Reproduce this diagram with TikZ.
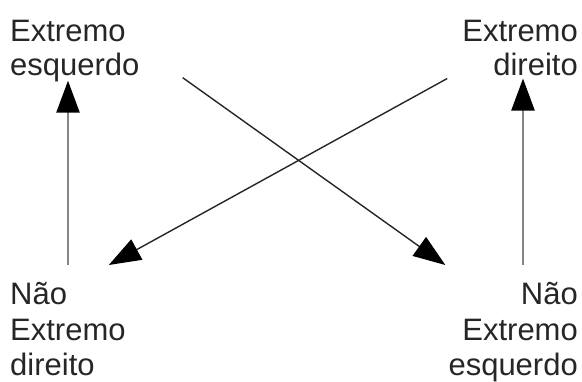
\documentclass[tikz,border=0pt]{standalone}
\usepackage{fontspec}
\setmainfont{Liberation Sans}
\usetikzlibrary{arrows.meta}
\definecolor{txt}{HTML}{262626}
\definecolor{vline}{HTML}{858585}
\begin{document}
\begin{tikzpicture}[x=1pt,y=1pt,
  lbl/.style={inner sep=0pt, text=txt, font={\fontsize{31}{34}\selectfont}},
  lblb/.style={inner sep=0pt, text=txt, font={\fontsize{31}{35.7}\selectfont}},
  tip/.style={-{Triangle[length=32pt,width=23pt,color=black]}},
  vert/.style={tip, draw=vline, line width=2.4pt},
  cross/.style={tip, draw=black!85, line width=1.4pt}]
\useasboundingbox (0,0) rectangle (582,-381);
\node[lbl, align=left, anchor=north west] (tl) at (10,-19.5) {Extremo\\esquerdo};
\node[lbl, align=right, anchor=north east] (tr) at (578,-19.5) {Extremo\\direito};
\node[lblb, align=left, anchor=north west] (bl) at (10,-282) {Não\\Extremo\\direito};
\node[lblb, align=right, anchor=north east] (br) at (578,-282) {Não\\Extremo\\esquerdo};
\draw[vert] ([xshift=58pt,yshift=17pt]bl.north west) -- ([xshift=58pt,yshift=1pt]tl.south west);
\draw[vert] ([xshift=-55pt,yshift=17pt]br.north east) -- ([xshift=-55pt,yshift=-3pt]tr.south east);
\draw[cross] ([xshift=43pt,yshift=4pt]tl.south east) -- ([xshift=-3pt,yshift=17pt]br.north west);
\draw[cross] ([xshift=-15pt,yshift=-3pt]tr.south west) -- ([xshift=-17pt,yshift=17pt]bl.north east);
\end{tikzpicture}
\end{document}
